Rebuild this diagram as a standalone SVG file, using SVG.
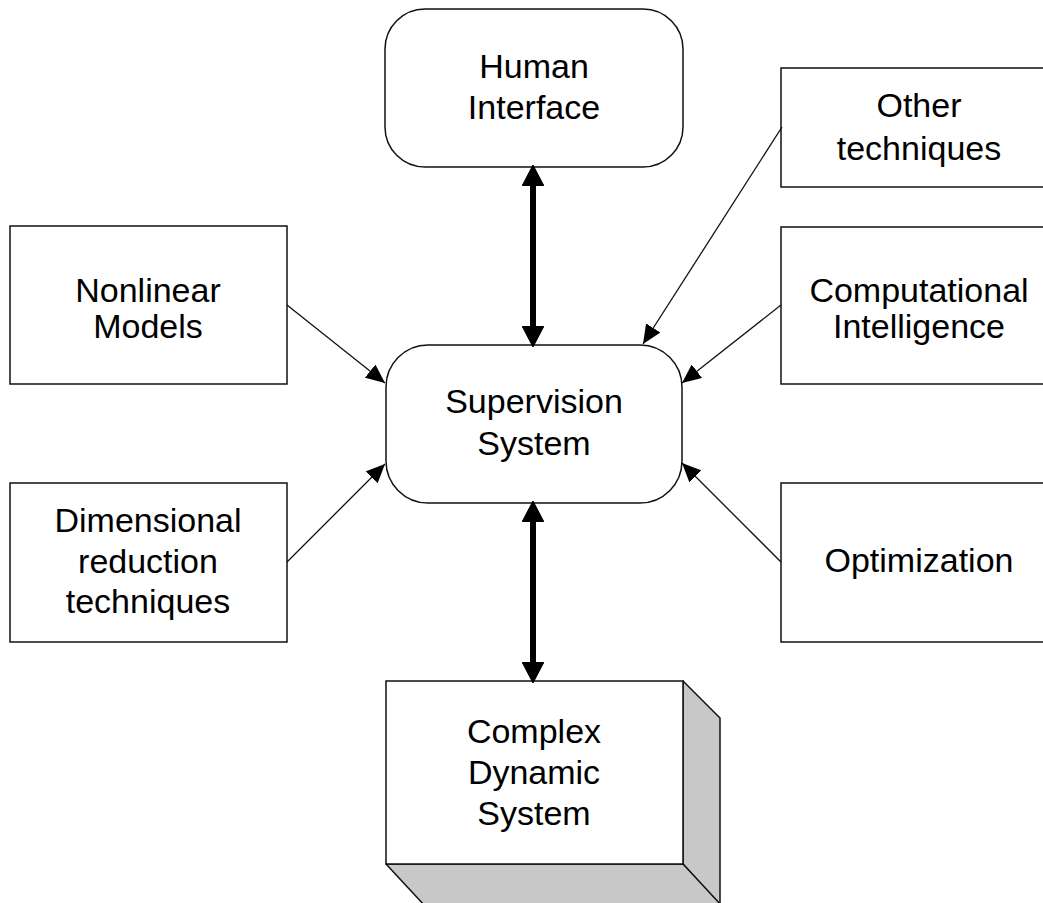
<svg xmlns="http://www.w3.org/2000/svg" width="1043" height="903" viewBox="0 0 1043 903">
<style>
.box{fill:#fff;stroke:#111;stroke-width:1.5}
.shade{fill:#c8c8c8;stroke:#111;stroke-width:1.5;stroke-linejoin:round}
.t{font-family:"Liberation Sans",Arial,sans-serif;font-size:34px;fill:#000;text-anchor:middle}
.thin{stroke:#111;stroke-width:1.3;fill:none}
.thick{stroke:#000;stroke-width:6;fill:none}
</style>
<defs>
<marker id="ah" markerUnits="userSpaceOnUse" markerWidth="19" markerHeight="17" viewBox="0 0 19 17" refX="19" refY="8.5" orient="auto"><path d="M0,0 L19,8.5 L0,17 z" fill="#000"/></marker>
<marker id="ahb" markerUnits="userSpaceOnUse" markerWidth="21" markerHeight="22" viewBox="0 0 21 22" refX="4" refY="11" orient="auto-start-reverse"><path d="M0,0 L21,11 L0,22 z" fill="#000" stroke="#000" stroke-width="1" stroke-linejoin="round"/></marker>
</defs>
<rect width="1043" height="903" fill="#fff"/>
<g id="human-interface">
<rect class="box" x="385" y="9" width="298" height="158" rx="40" ry="40"/>
<text class="t" x="534" y="78">Human</text>
<text class="t" x="534" y="119">Interface</text>
</g>
<g id="other-techniques">
<rect class="box" x="781" y="68" width="277" height="119"/>
<text class="t" x="919" y="117">Other</text>
<text class="t" x="919" y="160">techniques</text>
</g>
<g id="nonlinear-models">
<rect class="box" x="10" y="226" width="277" height="158"/>
<text class="t" x="148" y="302">Nonlinear</text>
<text class="t" x="148" y="338">Models</text>
</g>
<g id="computational-intelligence">
<rect class="box" x="781" y="227" width="277" height="157"/>
<text class="t" x="919" y="302">Computational</text>
<text class="t" x="919" y="338">Intelligence</text>
</g>
<g id="supervision-system">
<rect class="box" x="386" y="345" width="296" height="158" rx="42" ry="42"/>
<text class="t" x="534" y="413">Supervision</text>
<text class="t" x="534" y="455">System</text>
</g>
<g id="dimensional-reduction">
<rect class="box" x="10" y="483" width="277" height="159"/>
<text class="t" x="148" y="532">Dimensional</text>
<text class="t" x="148" y="573">reduction</text>
<text class="t" x="148" y="613">techniques</text>
</g>
<g id="optimization">
<rect class="box" x="781" y="483" width="277" height="159"/>
<text class="t" x="919" y="572">Optimization</text>
</g>
<g id="complex-dynamic-system">
<polygon class="shade" points="683,681 720,718 720,905 683,864"/>
<polygon class="shade" points="386,864 683,864 722,906 425,906"/>
<rect class="box" x="386" y="681" width="297" height="183"/>
<text class="t" x="534" y="743">Complex</text>
<text class="t" x="534" y="784">Dynamic</text>
<text class="t" x="534" y="825">System</text>
</g>
<g id="connectors">
<line class="thick" x1="533" y1="182" x2="533" y2="330" marker-start="url(#ahb)" marker-end="url(#ahb)"/>
<line class="thick" x1="533" y1="518" x2="533" y2="666" marker-start="url(#ahb)" marker-end="url(#ahb)"/>
<line class="thin" x1="782" y1="127" x2="643" y2="344" marker-end="url(#ah)"/>
<line class="thin" x1="287" y1="305" x2="385" y2="383" marker-end="url(#ah)"/>
<line class="thin" x1="287" y1="562" x2="385" y2="464" marker-end="url(#ah)"/>
<line class="thin" x1="781" y1="305" x2="682" y2="383" marker-end="url(#ah)"/>
<line class="thin" x1="781" y1="562" x2="682" y2="463" marker-end="url(#ah)"/>
</g>
</svg>
